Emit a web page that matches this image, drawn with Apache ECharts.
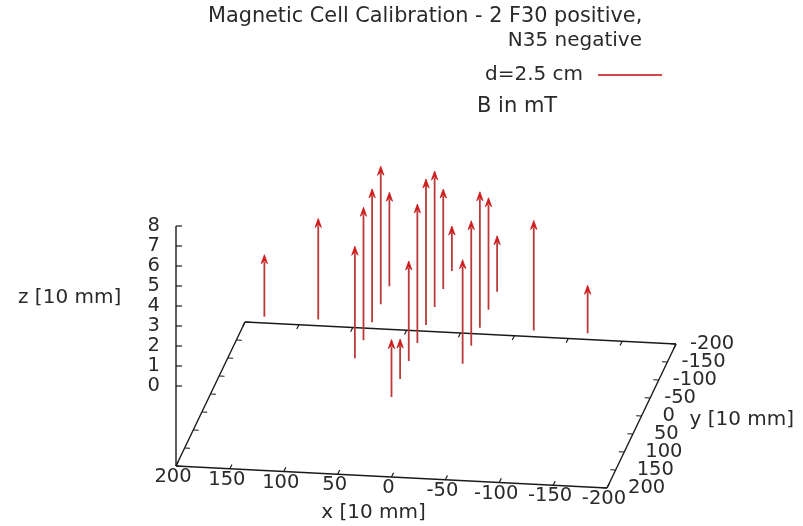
<!DOCTYPE html>
<html><head><meta charset="utf-8">
<script src="https://cdn.jsdelivr.net/npm/echarts@6/dist/echarts.min.js"></script>
<style>html,body{margin:0;padding:0;background:#fff}#c{width:803px;height:526px}</style>
</head><body><div id="c"></div>
<script>
// Measurement positions (x, y in 10 mm units), start height z and field B (mT)
const posX   = [150, 100, 50, 50, 50, 50, 50, 0, 0, 0, 0, 0, 0, 0, 0, -50, -50, -50, -50, -50, -100, -150];
const posY   = [0, 0, 100, 50, 0, -50, -100, 200, 150, 100, 50, 0, -50, -100, -150, 100, 50, 0, -50, -100, 0, 0];
const startZ = [0, 0, 0, 0, 0, 0, 0, 0, 0, 0, 0, 0, 0, 0, 0, 0, 0, 0, 0, 0, 0, 0];
const fieldB = [3.1, 5.05, 5.6, 6.65, 6.67, 6.9, 4.7, 2.87, 2.0, 5.0, 6.95, 7.3, 6.8, 5.0, 2.25, 5.2, 6.25, 6.8, 5.6, 2.8, 5.5, 2.4];
const xTicks = [200, 150, 100, 50, 0, -50, -100, -150, -200];
const yTicks = [-200, -150, -100, -50, 0, 50, 100, 150, 200];
const zTicks = [0, 1, 2, 3, 4, 5, 6, 7, 8];

const xRange = [-200, 200], yRange = [-200, 200], zRange = [0, 8], zBase = -4;
// oblique view (projected units per data unit)
const view = { ux: 431 / 400, uy: 69 / 400, vx: 22 / 400, vy: 144 / 400, vz: 20 };
function proj(x, y, z) {
  const a = xRange[1] - x, b = yRange[1] - y;
  return [a * view.ux + b * view.uy, -a * view.vx + b * view.vy + (z - zBase) * view.vz];
}

const FONT = 'DejaVu Sans';
const TXT = '#2a2a2a';
const EDGE = '#1a1a1a';

function line(p, q, w, c) {
  return { type: 'line', shape: { x1: p[0], y1: p[1], x2: q[0], y2: q[1] }, style: { stroke: c || EDGE, lineWidth: w || 1.4 } };
}
function text(t, x, y, align, size) {
  return { type: 'text', style: { text: t, x: x, y: y, align: align, verticalAlign: 'middle', fill: TXT, fontFamily: FONT, fontSize: size || 19.5 } };
}

function renderFrame(params, api) {
  const C = (x, y, z) => api.coord(proj(x, y, z));
  const ch = [];
  const fl = C(200, 200, zBase), fr = C(-200, 200, zBase), br = C(-200, -200, zBase), bl = C(200, -200, zBase);
  ch.push(line(fl, fr), line(fr, br), line(br, bl), line(bl, fl));
  ch.push(line(fl, C(200, 200, zRange[1])));
  // x ticks (front + mirrored on back)
  xTicks.forEach(x => {
    ch.push(line(C(x, 200, zBase), C(x, 188, zBase), 1.2));
    ch.push(line(C(x, -200, zBase), C(x, -188, zBase), 1.2));
    const p = C(x, 200, zBase);
    ch.push(text(String(x), p[0] - 3, p[1] + 11, 'center'));
  });
  // y ticks (right + mirrored on left)
  yTicks.forEach(y => {
    ch.push(line(C(-200, y, zBase), C(-195, y, zBase), 1.2));
    ch.push(line(C(200, y, zBase), C(195, y, zBase), 1.2));
    const p = C(-200, y, zBase);
    ch.push(text(String(y), p[0] + (y < 0 ? 14 : 21), p[1], 'left'));
  });
  // z ticks
  zTicks.forEach(z => {
    const p = C(200, 200, z);
    ch.push(line(p, [p[0] + 6, p[1]], 1.2));
    ch.push(text(String(z), p[0] - 16, p[1], 'right'));
  });
  // axis names
  const px = C(0, 200, zBase);
  ch.push(text('x [10 mm]', px[0] - 18, px[1] + 36, 'center', 20));
  const py = C(-200, 0, zBase);
  ch.push(text('y [10 mm]', py[0] + 48, py[1] + 4, 'left', 20));
  const pz = C(200, 200, 4);
  ch.push(text('z [10 mm]', pz[0] - 158, pz[1] - 8, 'left', 20));
  return { type: 'group', children: ch };
}

function renderArrow(params, api) {
  const x = api.value(0), y = api.value(1), z = api.value(2), b = api.value(3);
  const p0 = api.coord(proj(x, y, z));
  const p1 = api.coord(proj(x, y, z + b));
  const dx = p0[0] - p1[0], dy = p0[1] - p1[1];
  const len = Math.sqrt(dx * dx + dy * dy) || 1;
  const ux = dx / len, uy = dy / len, nx = -uy, ny = ux;
  const L = 9, W = 3.2;
  const hb = [p1[0] + ux * L, p1[1] + uy * L];
  return {
    type: 'group',
    children: [
      { type: 'line', shape: { x1: p0[0], y1: p0[1], x2: hb[0] - ux * 2, y2: hb[1] - uy * 2 }, style: { stroke: '#bb3838', lineWidth: 1.8 } },
      { type: 'polygon', shape: { points: [p1, [hb[0] + nx * W, hb[1] + ny * W], [p1[0] + ux * (L - 3), p1[1] + uy * (L - 3)], [hb[0] - nx * W, hb[1] - ny * W]] },
        style: { fill: '#d41a1a', stroke: '#c42020', lineWidth: 0.8 } }
    ]
  };
}

const arrowData = posX.map((x, i) => [x, posY[i], startZ[i], fieldB[i]]);

const chart = echarts.init(document.getElementById('c'), null, { renderer: 'canvas' });
chart.setOption({
  animation: false,
  backgroundColor: '#fff',
  title: [
    { text: 'Magnetic Cell Calibration - 2 F30 positive,', left: 208, top: 6, padding: 0,
      textStyle: { fontFamily: FONT, fontSize: 20.8, fontWeight: 'normal', color: TXT } },
    { text: 'N35 negative', right: 161, top: 31, padding: 0,
      textStyle: { fontFamily: FONT, fontSize: 20, fontWeight: 'normal', color: TXT } },
    { text: 'B in mT', left: 477, top: 96, padding: 0,
      textStyle: { fontFamily: FONT, fontSize: 21, fontWeight: 'normal', color: TXT } }
  ],
  legend: {
    left: 485, top: 65, padding: 0, align: 'right', itemWidth: 64, itemHeight: 2,
    data: [{ name: 'd=2.5 cm', icon: 'rect', itemStyle: { color: '#d04848' } }],
    textStyle: { fontFamily: FONT, fontSize: 20, color: TXT, padding: [0, 10, 0, 0] }
  },
  grid: { left: 0, right: 0, top: 0, bottom: 0 },
  xAxis: { type: 'value', min: -176, max: 627, show: false },
  yAxis: { type: 'value', min: -60, max: 466, show: false },
  series: [
    { type: 'custom', name: 'frame', data: [[0, 0]], renderItem: renderFrame, silent: true, clip: false },
    { type: 'custom', name: 'd=2.5 cm', data: arrowData, renderItem: renderArrow, clip: false,
      itemStyle: { color: '#d04848' }, encode: { x: 0, y: 1 } }
  ]
});
</script>
</body></html>
